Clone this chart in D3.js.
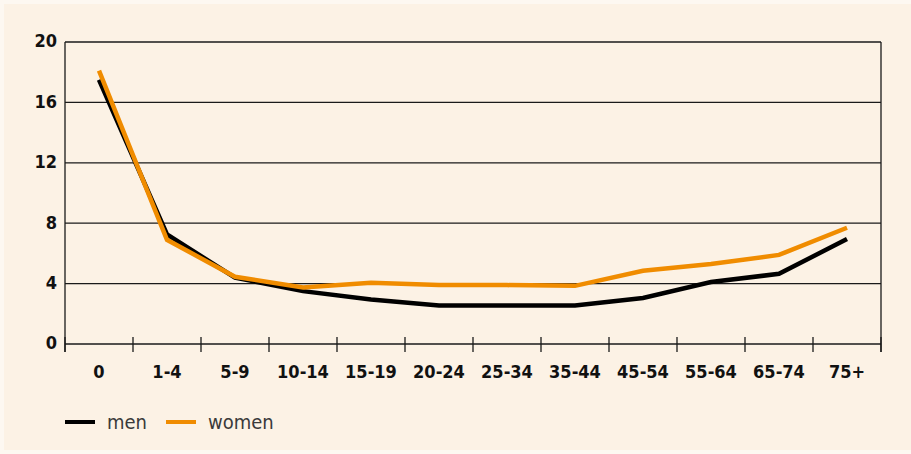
<!DOCTYPE html>
<meta charset="utf-8">
<style>
body { margin: 0; background: #fdf8f1; }
.tick-lbl { font-family: "DejaVu Sans Condensed", "DejaVu Sans", sans-serif; font-stretch: condensed; font-weight: bold; font-size: 18px; fill: #111; }
.legend-lbl { font-family: "DejaVu Sans Condensed", "DejaVu Sans", sans-serif; font-stretch: condensed; font-size: 20px; fill: #3a3a3a; }
</style>
<script src="https://d3js.org/d3.v7.min.js"></script>
<body>
<div id="chart"></div>
<script>
// age groups and values
var ageGroups = ["0", "1-4", "5-9", "10-14", "15-19", "20-24", "25-34", "35-44", "45-54", "55-64", "65-74", "75+"];
var men   = [17.5, 7.25, 4.4, 3.5, 2.95, 2.55, 2.55, 2.55, 3.05, 4.1, 4.65, 6.95];
var women = [18.1, 6.9, 4.45, 3.75, 4.05, 3.9, 3.9, 3.85, 4.85, 5.3, 5.9, 7.7];
var yTicks = [0, 4, 8, 12, 16, 20];

var W = 911, H = 454;
var margin = {top: 42, right: 30, bottom: 110, left: 65},
    width = W - margin.left - margin.right,
    height = H - margin.top - margin.bottom;

var svg = d3.select("#chart").append("svg")
    .attr("width", W)
    .attr("height", H);

// cream panel
svg.append("rect")
  .attr("x", 4).attr("y", 4)
  .attr("width", W - 4).attr("height", H - 8)
  .attr("fill", "#fcf2e5");

var g = svg.append("g")
  .attr("transform", "translate(" + margin.left + "," + margin.top + ")");

var x = d3.scaleBand().domain(ageGroups).range([0, width]);
var y = d3.scaleLinear().domain([0, 20]).range([height, 0]);

// horizontal grid lines
g.selectAll(".grid")
  .data(yTicks)
  .enter().append("line")
    .attr("x1", 0).attr("x2", width)
    .attr("y1", function(d) { return y(d); })
    .attr("y2", function(d) { return y(d); })
    .attr("stroke", "#1a1a1a")
    .attr("stroke-width", 1.3);

// y labels
g.selectAll(".ylbl")
  .data(yTicks)
  .enter().append("text")
    .attr("class", "tick-lbl")
    .attr("x", -8)
    .attr("y", function(d) { return y(d); })
    .attr("dy", "0.3em")
    .attr("text-anchor", "end")
    .text(function(d) { return d; });

// vertical frame lines (left + right), running past the baseline
[0, width].forEach(function(px) {
  g.append("line")
    .attr("x1", px).attr("x2", px)
    .attr("y1", 0).attr("y2", height + 8)
    .attr("stroke", "#1a1a1a")
    .attr("stroke-width", 1.3);
});

// x tick marks on band edges
var edges = ageGroups.map(function(d) { return x(d); }).concat([width]);
g.selectAll(".xtick")
  .data(edges)
  .enter().append("line")
    .attr("x1", function(d) { return d; })
    .attr("x2", function(d) { return d; })
    .attr("y1", height - 7).attr("y2", height + 8)
    .attr("stroke", "#1a1a1a")
    .attr("stroke-width", 1.3);

// x labels
g.selectAll(".xlbl")
  .data(ageGroups)
  .enter().append("text")
    .attr("class", "tick-lbl")
    .attr("x", function(d) { return x(d) + x.bandwidth() / 2; })
    .attr("y", height + 34)
    .attr("text-anchor", "middle")
    .text(function(d) { return d; });

var line = d3.line()
  .x(function(d, i) { return x(ageGroups[i]) + x.bandwidth() / 2; })
  .y(function(d) { return y(d); });

g.append("path")
  .datum(men)
  .attr("d", line)
  .attr("fill", "none")
  .attr("stroke", "#000")
  .attr("stroke-width", 4.5);

g.append("path")
  .datum(women)
  .attr("d", line)
  .attr("fill", "none")
  .attr("stroke", "#f08c00")
  .attr("stroke-width", 4.5);

// legend
var legend = [{name: "men", color: "#000", x: 65}, {name: "women", color: "#f08c00", x: 166}];
var lg = svg.selectAll(".legend")
  .data(legend)
  .enter().append("g")
    .attr("transform", function(d) { return "translate(" + d.x + ",422)"; });
lg.append("line")
  .attr("x1", 0).attr("x2", 30)
  .attr("stroke", function(d) { return d.color; })
  .attr("stroke-width", 4);
lg.append("text")
  .attr("class", "legend-lbl")
  .attr("x", 42)
  .attr("dy", "0.35em")
  .text(function(d) { return d.name; });
</script>
</body>
